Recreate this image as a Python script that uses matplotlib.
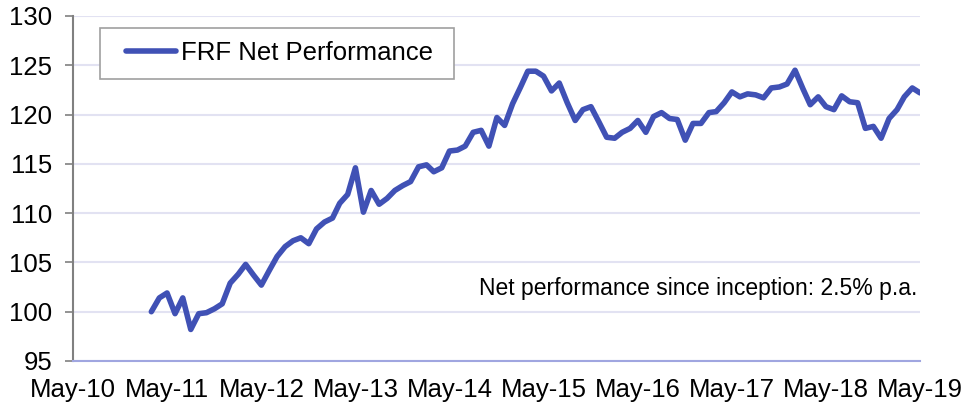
import matplotlib
matplotlib.use("Agg")
import matplotlib.pyplot as plt
import matplotlib.dates as mdates
from matplotlib.patches import Rectangle
import pandas as pd
import numpy as np

plt.rcParams['font.family'] = ['Liberation Sans', 'DejaVu Sans']

start_month = "2011-03"
values = [
    100.0, 101.4, 101.9, 99.8, 101.4, 98.2, 99.8, 99.9, 100.3, 100.8,
    102.9, 103.8, 104.8, 103.7, 102.7, 104.2, 105.6, 106.6, 107.2, 107.5,
    106.9, 108.4, 109.1, 109.5, 111.0, 111.9, 114.6, 110.1, 112.3, 110.9,
    111.5, 112.3, 112.8, 113.2, 114.7, 114.9, 114.2, 114.6, 116.3, 116.4,
    116.8, 118.2, 118.4,
    116.8, 119.7, 118.9, 121.1, 122.8, 124.4, 124.4, 123.9, 122.4, 123.2,
    121.2, 119.4, 120.5, 120.8, 119.3, 117.7, 117.6, 118.2, 118.6, 119.4,
    118.2, 119.8, 120.2, 119.6, 119.5, 117.4, 119.1, 119.1, 120.2, 120.3,
    121.2, 122.3, 121.8, 122.1, 122.0, 121.7, 122.7, 122.8, 123.1, 124.5,
    122.6, 121.0, 121.8, 120.8, 120.5, 121.9, 121.3, 121.2, 118.6, 118.8,
    117.6, 119.6, 120.5, 121.8, 122.7, 122.2,
]
dates = pd.date_range(start_month, periods=len(values), freq="MS")
tick_years = list(range(2010, 2020))
series_label = "FRF Net Performance"
note = "Net performance since inception: 2.5% p.a."

line_color = "#4051b5"
W, H = 964, 407

fig = plt.figure(figsize=(W/100, H/100), dpi=100)
ax = fig.add_axes([73/W, 1-361/H, (920-73)/W, (361-16)/H])

ax.plot(dates, values, color=line_color, lw=4.0, label=series_label,
        solid_joinstyle='round', solid_capstyle='round')

ax.set_ylim(95, 130)
ax.set_yticks(np.arange(95, 131, 5))
ax.set_xlim(pd.Timestamp("2010-05-01"), pd.Timestamp("2019-05-01"))
ax.set_xticks([pd.Timestamp(f"{y}-05-01") for y in tick_years])
ax.xaxis.set_major_formatter(mdates.DateFormatter("%b-%y"))

ax.grid(axis='y', color='#e2e2f2', lw=1.5)
ax.set_axisbelow(True)
for s in ['top', 'right']:
    ax.spines[s].set_visible(False)
ax.spines['left'].set_color('#808080')
ax.spines['left'].set_linewidth(1.5)
ax.spines['bottom'].set_color('#a0a6e0')
ax.spines['bottom'].set_linewidth(1.5)

ax.tick_params(axis='y', length=6, width=1.2, color='#808080', pad=9, labelsize=18.5)
ax.tick_params(axis='x', length=0, pad=12, labelsize=18.5)

# legend frame
ax.add_patch(Rectangle((100/W, 1-79/H), 354/W, 51/H, transform=fig.transFigure,
                       facecolor='white', edgecolor='#a0a0a0', lw=1.2, zorder=5,
                       clip_on=False))
leg = ax.legend(loc='center left', bbox_to_anchor=(126/W, 1-53/H),
                bbox_transform=fig.transFigure, fontsize=18.5, frameon=False,
                handlelength=1.95, borderpad=0, borderaxespad=0,
                handletextpad=0.2)
leg.set_zorder(6)

ax.text(pd.Timestamp("2019-05-01") - pd.Timedelta(days=10), 102.4, note,
        ha='right', va='center', fontsize=16.5)

fig.savefig("out.png", dpi=100)
